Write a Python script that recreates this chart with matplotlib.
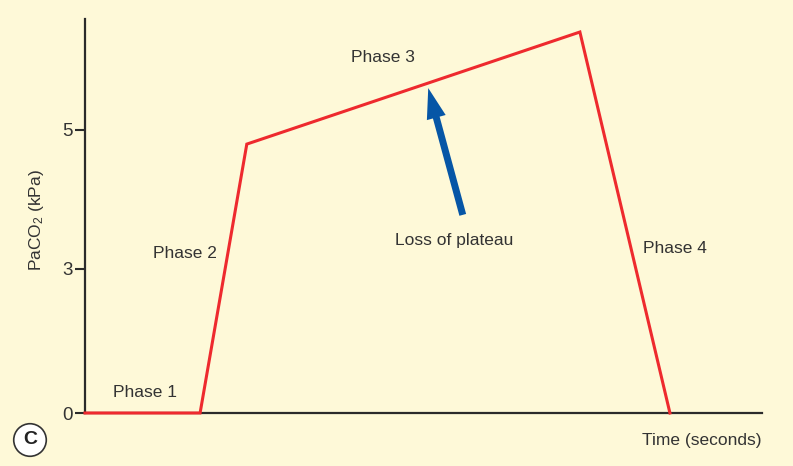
import matplotlib
matplotlib.use("Agg")
import matplotlib.pyplot as plt

plt.rcParams['font.family'] = ['Liberation Sans', 'DejaVu Sans']
plt.rcParams['mathtext.default'] = 'regular'

# schematic capnogram (time in arbitrary units, PaCO2 in kPa)
time = [0.0, 1.70, 2.39, 7.31, 8.64]
paco2 = [0.0, 0.0, 4.75, 6.73, 0.0]

# the original axis is drawn schematically: "3" sits lower than a linear scale
tick_pos = [0, 2.55, 5]
tick_labels = ['0', '3', '5']

phase_labels = ['Phase 1', 'Phase 2', 'Phase 3', 'Phase 4']
phase_xy = [(0.88, 0.36), (1.47, 2.82), (4.40, 6.28), (8.71, 2.90)]

bg = '#fef9d8'
ink = '#333333'
fs = 12.5

fig = plt.figure(figsize=(7.93, 4.66), dpi=100, facecolor=bg)
ax = fig.add_axes([85 / 793, 1 - 413 / 466, 677 / 793, 394 / 466])
ax.set_facecolor(bg)

ax.plot(time, paco2, color='#ee2a2e', lw=2.2, solid_joinstyle='miter',
        clip_on=False, zorder=3)

ax.set_xlim(0, 10)
ax.set_ylim(0, 6.96)
for s in ['top', 'right']:
    ax.spines[s].set_visible(False)
for s in ['left', 'bottom']:
    ax.spines[s].set_color('#2b2b2b')
    ax.spines[s].set_linewidth(1.6)

ax.set_xticks([])
ax.set_yticks(tick_pos)
ax.set_yticklabels(tick_labels)
ax.tick_params(axis='y', length=7, width=1.5, color='#2b2b2b',
               labelsize=13.5, labelcolor=ink, pad=2)

for lab, (x, y) in zip(phase_labels, phase_xy):
    ax.text(x, y, lab, fontsize=fs, color=ink, ha='center', va='center')

# loss of plateau arrow
ax.annotate('', xy=(5.07, 5.74), xytext=(5.58, 3.50),
            arrowprops=dict(width=5, headwidth=14, headlength=22,
                            shrink=0, color='#0656a6', lw=0))
ax.text(5.46, 3.05, 'Loss of plateau', fontsize=fs, color=ink,
        ha='center', va='center')

fig.text(762 / 793, 1 - 440 / 466, 'Time (seconds)', fontsize=fs,
         color=ink, ha='right', va='center')
fig.text(37 / 793, 1 - 220 / 466, 'PaCO$_2$ (kPa)', fontsize=fs,
         color=ink, ha='center', va='center', rotation=90)

fig.text(30 / 793, 1 - 440 / 466, 'C', fontsize=14, fontweight='bold',
         color='#222222', ha='center', va='center',
         bbox=dict(boxstyle='circle,pad=0.4', fc='white', ec='#333333', lw=1.2))

fig.savefig('out.png', dpi=100, facecolor=bg)
